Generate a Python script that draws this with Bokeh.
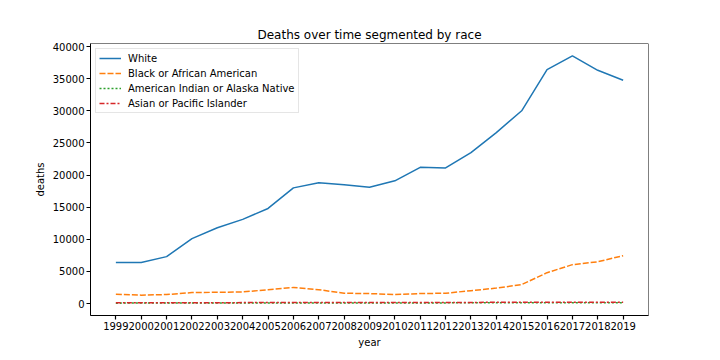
from bokeh.plotting import figure
from bokeh.models import Range1d, FixedTicker, Legend, LegendItem, NumeralTickFormatter, BoxAnnotation
from bokeh.embed import file_html
from bokeh.resources import INLINE

years = list(range(1999, 2020))
white = [6400, 6400, 7300, 10100, 11800, 13100, 14800, 18000, 18800, 18500, 18100,
         19100, 21200, 21100, 23500, 26600, 30000, 36400, 38550, 36300, 34750]
black = [1450, 1300, 1400, 1700, 1750, 1800, 2150, 2500, 2150, 1600, 1550,
         1400, 1550, 1600, 2000, 2400, 2950, 4800, 6050, 6500, 7450]
am_indian = [60, 70, 70, 80, 80, 80, 90, 90, 90, 90, 100,
             100, 100, 100, 110, 110, 120, 120, 120, 120, 120]
asian = [120, 120, 130, 130, 130, 140, 140, 150, 150, 150, 160,
         160, 160, 170, 170, 190, 210, 200, 190, 200, 210]
series_names = ["White", "Black or African American",
                "American Indian or Alaska Native", "Asian or Pacific Islander"]
y_ticks = list(range(0, 40001, 5000))

FONT = "DejaVu Sans"
allv = white + black + am_indian + asian
lo, hi = min(allv), max(allv)
pad = 0.05 * (hi - lo)
xpad = 0.05 * (years[-1] - years[0])

p = figure(width=712, height=352, output_backend="svg", toolbar_location=None,
           x_range=Range1d(years[0] - xpad, years[-1] + xpad),
           y_range=Range1d(lo - pad, hi + pad),
           min_border_left=90, min_border_right=64, min_border_top=43, min_border_bottom=37,
           title="Deaths over time segmented by race")

p.background_fill_color = None
p.border_fill_color = None

p.title.text_font = FONT
p.title.text_font_size = "12px"
p.title.text_font_style = "normal"
p.title.align = "center"
p.title.text_color = "black"
p.title.standoff = 4

p.xgrid.visible = False
p.ygrid.visible = False
p.outline_line_color = None

for ax in (p.xaxis, p.yaxis):
    ax.level = "overlay"
    ax.axis_line_color = "black"
    ax.axis_line_width = 1
    ax.major_tick_line_color = "black"
    ax.major_tick_line_width = 1.2
    ax.major_tick_in = 0
    ax.major_tick_out = 4
    ax.minor_tick_line_color = None
    ax.major_label_text_font = FONT
    ax.major_label_text_font_size = "10px"
    ax.major_label_text_color = "black"
    ax.axis_label_text_font = FONT
    ax.axis_label_text_font_size = "10px"
    ax.axis_label_text_font_style = "normal"
    ax.axis_label_text_color = "black"
    ax.major_label_standoff = 2
    ax.axis_label_standoff = 4

p.xaxis.ticker = FixedTicker(ticks=years)
p.xaxis.formatter = NumeralTickFormatter(format="0")
p.yaxis.ticker = FixedTicker(ticks=y_ticks)
p.yaxis.formatter = NumeralTickFormatter(format="0")
p.xaxis.axis_label = "year"
p.yaxis.axis_label = "deaths"

frame_box = BoxAnnotation(fill_alpha=0, line_color="black", line_width=1, line_alpha=1,
                          level="overlay")
p.add_layout(frame_box)

colors = ["#1f77b4", "#ff7f0e", "#2ca02c", "#d62728"]
dashes = ["solid", "6 2", "2 2", "5 2 2 2"]
data = [white, black, am_indian, asian]
items = []
for name, vals, c, d in zip(series_names, data, colors, dashes):
    r = p.line(years, vals, line_color=c, line_width=1.5, line_dash=d)
    items.append(LegendItem(label=name, renderers=[r]))

legend = Legend(items=items, location="top_left")
legend.label_text_font = FONT
legend.label_text_font_size = "10px"
legend.label_text_color = "black"
legend.glyph_width = 22
legend.glyph_height = 12
legend.label_height = 12
legend.spacing = 3
legend.padding = 3
legend.margin = 5
legend.label_standoff = 7
legend.border_line_color = "#cccccc"
legend.border_line_width = 1
legend.background_fill_color = "white"
legend.background_fill_alpha = 0.8
p.add_layout(legend)

open("out.html", "w").write(file_html(p, INLINE))
